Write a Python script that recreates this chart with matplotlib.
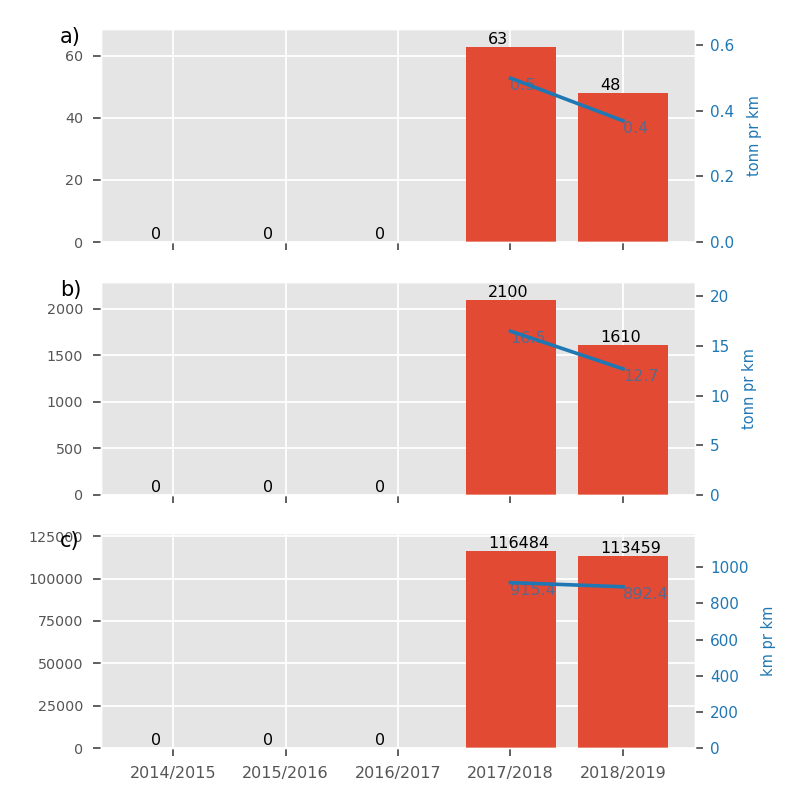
import matplotlib
matplotlib.use("Agg")
import matplotlib.pyplot as plt
from matplotlib.ticker import MultipleLocator
import numpy as np

plt.style.use("ggplot")
plt.rcParams["grid.linewidth"] = 1.3

seasons = ["2014/2015", "2015/2016", "2016/2017", "2017/2018", "2018/2019"]
bars_a = [0, 0, 0, 63, 48]
bars_b = [0, 0, 0, 2100, 1610]
bars_c = [0, 0, 0, 116484, 113459]
line_seasons_idx = [3, 4]
line_a = [0.50, 0.37]
line_b = [16.5, 12.7]
line_c = [915.4, 892.4]
panel_labels = ["a)", "b)", "c)"]
right_labels = ["tonn pr km", "tonn pr km", "km pr km"]
left_steps = [20, 500, 25000]
right_steps = [0.2, 5, 200]

fig = plt.figure(figsize=(8, 8), dpi=100)
W = 800.0
positions = [(242, 213), (495, 213), (748, 215)]
bar_sets = [bars_a, bars_b, bars_c]
line_sets = [line_a, line_b, line_c]
blue = "#1f77b4"
tickc = "#444444"
x = np.arange(len(seasons))

for i, ((bot, h), bars, lv, pl, rl, ls, rs) in enumerate(
        zip(positions, bar_sets, line_sets, panel_labels, right_labels, left_steps, right_steps)):
    ax = fig.add_axes([101 / W, 1 - bot / W, 594 / W, h / W])
    ax.bar(x, bars, width=0.8, color="#E24A33", zorder=2)
    ax.set_ylim(0, max(bars) * 1.09)
    ax.yaxis.set_major_locator(MultipleLocator(ls))
    ax.set_xticks(x)
    if i == 2:
        ax.set_xticklabels(seasons, fontsize=11.5)
    else:
        ax.set_xticklabels([])
    ax.tick_params(axis="y", labelsize=10.3, length=6, width=1.2, color=tickc, pad=7)
    ax.tick_params(axis="x", length=6, width=1.2, color=tickc, pad=7)
    for xi, v in zip(x, bars):
        ax.text(xi - 0.2, v, f"{v}", ha="left", va="bottom", fontsize=11.5, color="black", zorder=5)
    ax.text(-0.069, 1.01, pl, transform=ax.transAxes, ha="left", va="top", fontsize=15, color="black")

    ax2 = ax.twinx()
    ax2.grid(False)
    lx = [x[j] for j in line_seasons_idx]
    ax2.plot(lx, lv, color=blue, linewidth=2.6)
    ax2.set_ylim(0, max(lv) * 1.3)
    ax2.yaxis.set_major_locator(MultipleLocator(rs))
    for xx, v in zip(lx, lv):
        ax2.text(xx, v, f"{v:.1f}", ha="left", va="top", fontsize=11.5, color=blue, alpha=0.7)
    ax2.tick_params(axis="y", labelcolor=blue, labelsize=11, length=6, width=1.2, color=tickc, pad=5)
    ax2.set_ylabel(rl, color=blue, fontsize=10.5, labelpad=9)
    ax2.set_xlim(ax.get_xlim())

fig.savefig("out.png", dpi=100)
